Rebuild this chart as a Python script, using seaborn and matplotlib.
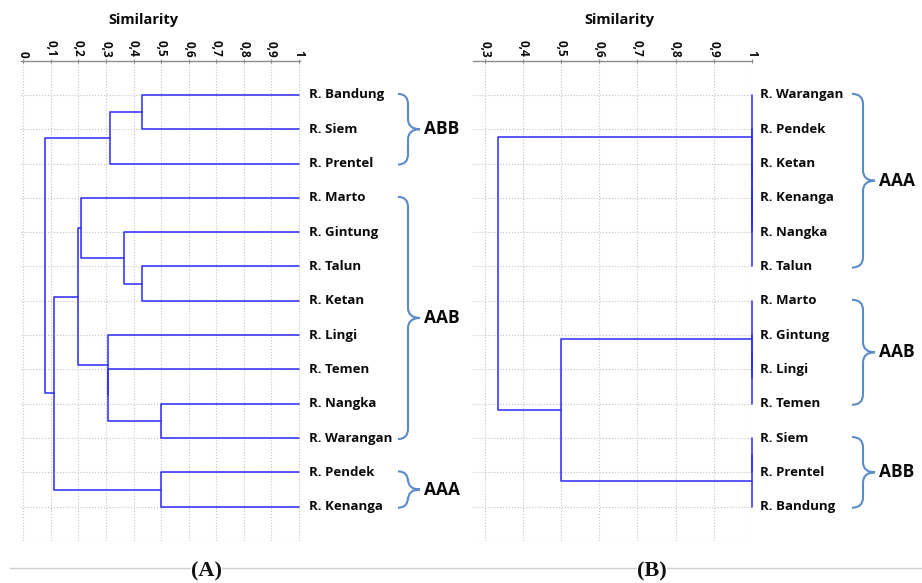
import numpy as np
import pandas as pd
import matplotlib
import matplotlib.pyplot as plt
import matplotlib.transforms as mtransforms
from matplotlib.path import Path
from matplotlib.patches import PathPatch
from matplotlib.lines import Line2D
import seaborn as sns

# -------------------------------
# Data
# -------------------------------
a_leaves = ["R. Bandung", "R. Siem", "R. Prentel", "R. Marto", "R. Gintung",
            "R. Talun", "R. Ketan", "R. Lingi", "R. Temen", "R. Nangka",
            "R. Warangan", "R. Pendek", "R. Kenanga"]
# merges (child a, child b, similarity); new node ids follow leaf ids
a_link = [(0, 1, 0.43), (13, 2, 0.315), (5, 6, 0.43), (4, 15, 0.365),
          (3, 16, 0.21), (9, 10, 0.50), (8, 18, 0.308), (7, 19, 0.306),
          (17, 20, 0.197), (11, 12, 0.50), (21, 22, 0.113), (14, 23, 0.08)]
a_groups = [("ABB", 0, 2), ("AAB", 3, 10), ("AAA", 11, 12)]
a_ticks = [0, 0.1, 0.2, 0.3, 0.4, 0.5, 0.6, 0.7, 0.8, 0.9, 1]

b_leaves = ["R. Warangan", "R. Pendek", "R. Ketan", "R. Kenanga", "R. Nangka",
            "R. Talun", "R. Marto", "R. Gintung", "R. Lingi", "R. Temen",
            "R. Siem", "R. Prentel", "R. Bandung"]
b_link = [(3, 4, 1.0), (2, 13, 1.0), (14, 5, 1.0), (1, 15, 1.0), (0, 16, 1.0),
          (7, 8, 1.0), (18, 9, 1.0), (6, 19, 1.0), (10, 11, 1.0), (21, 12, 1.0),
          (20, 22, 0.50), (17, 23, 0.334)]
b_groups = [("AAA", 0, 5), ("AAB", 6, 9), ("ABB", 10, 12)]
b_ticks = [0.3, 0.4, 0.5, 0.6, 0.7, 0.8, 0.9, 1]

sns.set_style("white")
plt.rcParams['font.family'] = ['Open Sans', 'DejaVu Sans']

W, H = 922, 583
fig = plt.figure(figsize=(W / 100, H / 100), dpi=100)

LINE_COLOR = "#2a2aff"
BRACE_COLOR = "#5b8bc8"
TEXT_COLOR = "#0a0a0a"


def dendro_segments(link, n):
    pos = {i: (1.0, float(i)) for i in range(n)}
    rows = []
    for k, (a, b, s) in enumerate(link):
        xa, ya = pos[a]
        xb, yb = pos[b]
        for x, y in [(xa, ya), (s, ya), (s, yb), (xb, yb)]:
            rows.append({"x": x, "y": y, "seg": k})
        pos[n + k] = (s, (ya + yb) / 2)
    return pd.DataFrame(rows)


def fmt(t):
    return "1" if t == 1 else ("0" if t == 0 else f"{t:.1f}".replace(".", ","))


def draw_brace(ax, x0, x1, xp, top, bot, r=0.3):
    tr = mtransforms.blended_transform_factory(fig.transFigure, ax.transData)
    x0, x1, xp = x0 / W, x1 / W, xp / W
    mid = (top + bot) / 2
    verts = [(x0, top), (x1, top), (x1, top + r),
             (x1, mid - r),
             (x1, mid), (xp, mid),
             (x1, mid), (x1, mid + r),
             (x1, bot - r),
             (x1, bot), (x0, bot)]
    codes = [Path.MOVETO, Path.CURVE3, Path.CURVE3,
             Path.LINETO,
             Path.CURVE3, Path.CURVE3,
             Path.CURVE3, Path.CURVE3,
             Path.LINETO,
             Path.CURVE3, Path.CURVE3]
    patch = PathPatch(Path(verts, codes), transform=tr, fill=False,
                      edgecolor=BRACE_COLOR, lw=1.5, clip_on=False)
    ax.add_patch(patch)
    return tr, mid


def panel(rect, xlim, ticks, leaves, link, groups, label_off, brace_x, title_x):
    ax = fig.add_axes(rect)
    df = dendro_segments(link, len(leaves))
    sns.lineplot(data=df, x="x", y="y", units="seg", estimator=None, sort=False,
                 color=LINE_COLOR, lw=1.1, legend=False, ax=ax)
    for ln in ax.lines:
        ln.set_clip_on(False)

    ax.set_xlim(*xlim)
    ax.set_ylim(13, -1)
    ax.set_xlabel("")
    ax.set_ylabel("")
    ax.xaxis.tick_top()
    ax.set_xticks(ticks)
    ax.set_xticklabels([fmt(t) for t in ticks], rotation=-90,
                       fontsize=8.5, fontweight="bold", color=TEXT_COLOR)
    ax.tick_params(axis="x", length=3, direction="inout", color="#8c8c8c", pad=1)
    ax.set_yticks(np.arange(0, 14))
    ax.tick_params(axis="y", length=0, labelleft=False)
    ax.grid(True, ls=":", color="#c4c4c4", lw=0.8)
    ax.set_axisbelow(True)
    for side in ["left", "right", "bottom"]:
        ax.spines[side].set_visible(False)
    ax.spines["top"].set_color("#8c8c8c")
    ax.spines["top"].set_linewidth(1.0)

    for i, name in enumerate(leaves):
        ax.annotate(name, xy=(1, i), xytext=(label_off, 0), textcoords="offset points",
                    va="center", ha="left", fontsize=9.5, fontweight="bold",
                    color=TEXT_COLOR, annotation_clip=False)

    x0, x1, xp = brace_x
    for gname, first, last in groups:
        tr, mid = draw_brace(ax, x0, x1, xp, first - 0.03, last + 0.03)
        ax.text((xp + 4) / W, mid, gname, transform=tr, va="center", ha="left",
                fontsize=12.5, fontweight="bold", color=TEXT_COLOR)

    fig.text(title_x / W, 1 - 20 / H, "Similarity", ha="center", va="center",
             fontsize=10.5, fontweight="bold", color=TEXT_COLOR)
    return ax


top_px, bot_px = 60.6, 541.0
panel([20.7 / W, (H - bot_px) / H, 279.3 / W, (bot_px - top_px) / H],
      (-0.0095, 1.0035), a_ticks, a_leaves, a_link, a_groups, 7.5,
      (398, 408, 420), 143.5)
panel([473 / W, (H - bot_px) / H, 279.1 / W, (bot_px - top_px) / H],
      (0.268, 1.001), b_ticks, b_leaves, b_link, b_groups, 6,
      (852, 863, 875), 619)

# bottom rule and panel captions
fig.add_artist(Line2D([10 / W, 1], [1 - 568 / H] * 2, color="#cfcfcf", lw=1))
for txt, xc in [("(A)", 206), ("(B)", 652)]:
    fig.text(xc / W, 1 - 571 / H, txt, ha="center", va="center", fontsize=16,
             fontweight="bold", family="Liberation Serif", color="#111111",
             bbox=dict(facecolor="white", edgecolor="none", pad=0))

fig.savefig("out.png", dpi=100)
plt.close(fig)
